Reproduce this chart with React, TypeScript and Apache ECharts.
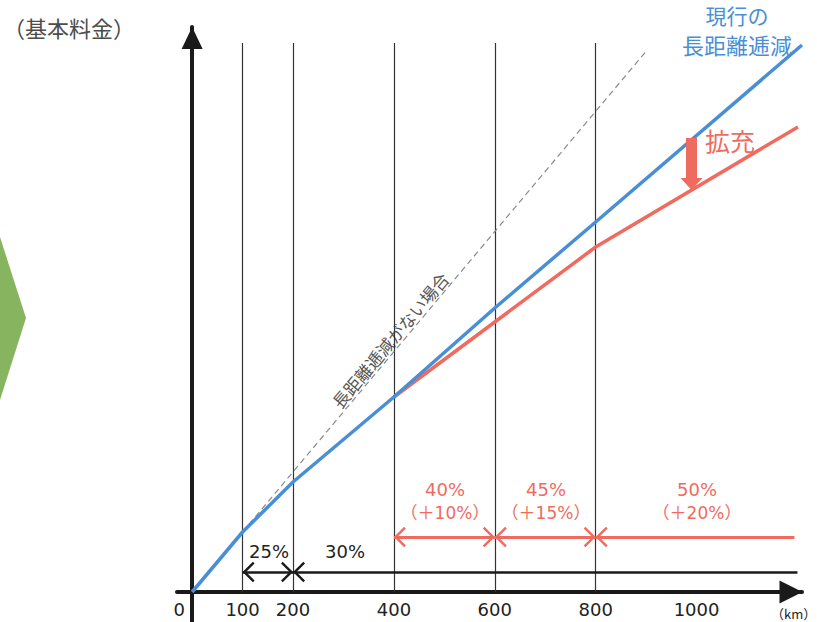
import React, { useEffect, useRef } from "react";
import * as echarts from "echarts";

// ---- data ----
const kmTicks = [0, 100, 200, 400, 600, 800, 1000];
const gridKm = [100, 200, 400, 600, 800];
const gridTopFare = 549;

const currentKm = [0, 100, 200, 400, 600, 800, 1209];
const currentFare = [0, 60, 110, 195, 284, 370, 547];

const expandedKm = [400, 600, 800, 1201];
const expandedFare = [195, 270, 345, 465];

const noReductionKm = [100, 902];
const noReductionFare = [60, 542];

const baseBandFrom = [100, 200];
const baseBandTo = [200, 1200];
const baseBandLabels = ["25%", "30%"];
const baseBandLevel = 20;

const newBandFrom = [400, 600, 800];
const newBandTo = [600, 800, 1194];
const newBandLabels = ["40%", "45%", "50%"];
const newBandDiff = ["（＋10%）", "（＋15%）", "（＋20%）"];
const newBandLevel = 55;

const expandArrowKm = 990;
const expandArrowFrom = 454;
const expandArrowTo = 413;

// ---- styles ----
const BLUE = "#4a8fd4";
const RED = "#ef6b5f";
const BLACK = "#1a1a1a";
const JP = '"Noto Sans CJK JP", "Noto Sans", sans-serif';
const NUM = '"DejaVu Sans", "Noto Sans CJK JP", sans-serif';

const CHEV =
  "path://M12,0 L24,12 L22,14 L12,4 L2,14 L0,12 Z M11.995,-14 L12.005,-14 L12.005,0 L11.995,0 Z M-2,0 L-1.99,0 L-1.99,0.01 L-2,0.01 Z M26,0 L26.01,0 L26.01,0.01 L26,0.01 Z";
const HEAD =
  "path://M11,0 L22,12 L0,12 Z M10.995,22 L11.005,22 L11.005,21.99 L10.995,21.99 Z";

export default function App() {
  const ref = useRef<HTMLDivElement>(null);
  useEffect(() => {
    if (!ref.current) return;
    const chart = echarts.init(ref.current, undefined, { renderer: "svg" });

    const bandSeries = (
      from: number[],
      to: number[],
      level: number,
      color: string,
      width: number
    ) =>
      from.map((f, i) => ({
        type: "lines",
        coordinateSystem: "cartesian2d",
        silent: true,
        z: 4,
        symbol: i === from.length - 1 && to[i] > 900 ? [CHEV, "none"] : [CHEV, CHEV],
        symbolSize: 24,
        label: { show: false },
        lineStyle: { color, width, opacity: 1 },
        data: [{ coords: [[f, level], [to[i], level]] }],
      }));

    const option: any = {
      animation: false,
      grid: {
        left: 177,
        right: 15,
        top: 27,
        bottom: 0,
        containLabel: false,
        outerBoundsMode: "none",
      },
      xAxis: {
        type: "value",
        position: "bottom",
        offset: -30,
        min: -30,
        max: 1209,
        splitLine: { show: false },
        axisTick: { show: false },
        axisLine: {
          show: true,
          onZero: false,
          lineStyle: { color: BLACK, width: 4 },
          symbol: ["none", "triangle"],
          symbolSize: [23, 23],
          symbolOffset: [0, -11],
        },
        axisLabel: {
          customValues: kmTicks,
          margin: 8,
          color: "#222",
          fontSize: 18,
          fontFamily: NUM,
          formatter: (v: number) => (v === 0 ? "{z|0}" : String(v)),
          rich: { z: { fontSize: 18, fontFamily: NUM, color: "#222", padding: [0, 26, 0, 0] } },
        },
      },
      yAxis: {
        type: "value",
        min: -30,
        max: 565,
        splitLine: { show: false },
        axisTick: { show: false },
        axisLabel: { show: false },
        axisLine: {
          show: true,
          onZero: true,
          lineStyle: { color: BLACK, width: 4 },
          symbol: ["none", "triangle"],
          symbolSize: [21, 22],
          symbolOffset: [0, -11],
        },
      },
      series: [
        {
          type: "lines",
          coordinateSystem: "cartesian2d",
          silent: true,
          z: 1,
          label: { show: false },
          lineStyle: { color: "#333", width: 1.2, opacity: 1 },
          data: gridKm.map((k) => ({ coords: [[k, 0], [k, gridTopFare]] })),
        },
        {
          type: "line",
          silent: true,
          z: 2,
          symbol: "none",
          lineStyle: { color: "#8a8a8a", width: 1.2, type: [6, 4] },
          data: noReductionKm.map((k, i) => [k, noReductionFare[i]]),
        },
        {
          type: "line",
          silent: true,
          z: 3,
          symbol: "none",
          clip: false,
          lineStyle: { color: RED, width: 3.5 },
          data: expandedKm.map((k, i) => [k, expandedFare[i]]),
        },
        {
          type: "line",
          silent: true,
          z: 3,
          symbol: "none",
          clip: false,
          lineStyle: { color: BLUE, width: 3.5 },
          data: currentKm.map((k, i) => [k, currentFare[i]]),
        },
        ...bandSeries(baseBandFrom, baseBandTo, baseBandLevel, BLACK, 2.5),
        ...bandSeries(newBandFrom, newBandTo, newBandLevel, RED, 3),
        {
          type: "lines",
          coordinateSystem: "cartesian2d",
          silent: true,
          z: 5,
          symbol: ["none", HEAD],
          symbolSize: 22,
          label: { show: false },
          lineStyle: { color: RED, width: 11, opacity: 1 },
          data: [{ coords: [[expandArrowKm, expandArrowFrom], [expandArrowKm, expandArrowTo]] }],
        },
      ],
      graphic: [
        {
          type: "polygon",
          shape: { points: [[0, 237], [26, 318], [0, 400]] },
          style: { fill: "#87b55f" },
        },
        {
          type: "text",
          x: 3,
          y: 27,
          style: { text: "（基本料金）", fill: "#4d4d4d", fontSize: 22, fontFamily: JP, align: "left", verticalAlign: "middle" },
        },
        {
          type: "text",
          x: 737,
          y: 15,
          style: { text: "現行の", fill: BLUE, fontSize: 21, fontFamily: JP, align: "center", verticalAlign: "middle" },
        },
        {
          type: "text",
          x: 737,
          y: 44,
          style: { text: "長距離逓減", fill: BLUE, fontSize: 22, fontFamily: JP, align: "center", verticalAlign: "middle" },
        },
        {
          type: "text",
          x: 705,
          y: 140,
          style: { text: "拡充", fill: RED, fontSize: 25, fontFamily: JP, align: "left", verticalAlign: "middle" },
        },
        {
          type: "text",
          x: 390,
          y: 340,
          rotation: (50 * Math.PI) / 180,
          style: { text: "長距離逓減がない場合", fill: "#555", fontSize: 17, fontFamily: JP, align: "center", verticalAlign: "middle" },
        },
        {
          type: "text",
          x: 269,
          y: 551,
          style: { text: baseBandLabels[0], fill: "#222", fontSize: 18, fontFamily: NUM, align: "center", verticalAlign: "middle" },
        },
        {
          type: "text",
          x: 345,
          y: 551,
          style: { text: baseBandLabels[1], fill: "#222", fontSize: 18, fontFamily: NUM, align: "center", verticalAlign: "middle" },
        },
        ...[445, 546, 697].flatMap((cx, i) => [
          {
            type: "text",
            x: cx,
            y: 489,
            style: { text: newBandLabels[i], fill: RED, fontSize: 18, fontFamily: NUM, align: "center", verticalAlign: "middle" },
          },
          {
            type: "text",
            x: cx,
            y: 513,
            style: { text: newBandDiff[i], fill: RED, fontSize: 17, fontFamily: NUM, align: "center", verticalAlign: "middle" },
          },
        ]),
        {
          type: "text",
          x: 771,
          y: 613,
          style: { text: "（km）", fill: "#222", fontSize: 13, fontFamily: JP, align: "left", verticalAlign: "middle" },
        },
      ],
    };
    chart.setOption(option);
    return () => chart.dispose();
  }, []);
  return (
    <div
      ref={ref}
      style={{ position: "absolute", left: 0, top: 0, width: 817, height: 622 }}
    />
  );
}
